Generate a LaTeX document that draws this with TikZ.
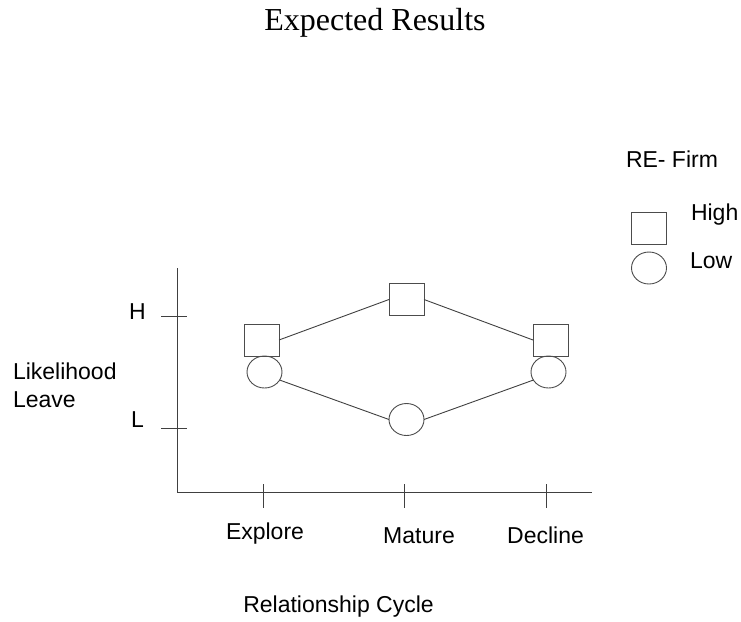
\documentclass[tikz,border=0pt]{standalone}
\usepackage{fontspec}
\setmainfont{Liberation Sans}
\newfontfamily\titlefont{Liberation Serif}
\usetikzlibrary{shapes.geometric}
\begin{document}
\begin{tikzpicture}[x=1pt,y=-1pt,
  every node/.style={inner sep=0pt, outer sep=0pt},
  lbl/.style={font=\fontsize{23}{28}\selectfont, text=black, anchor=base},
  sq/.style={draw=black!70, line width=0.9pt, minimum width=35pt, minimum height=32pt, rectangle},
  circ/.style={draw=black!70, line width=0.9pt, ellipse, minimum width=35pt, minimum height=32pt},
  axis/.style={draw=black!75, line width=0.9pt},
  conn/.style={draw=black!75, line width=0.9pt}]
\useasboundingbox (0,0) rectangle (741,621);
% title
\node[anchor=base, font=\titlefont\fontsize{32}{36}\selectfont] (title) at (375,30) {Expected Results};
% axes
\coordinate (ytop) at (177.5,268);
\coordinate (orig) at (177.5,492);
\coordinate (xend) at (592,492);
\draw[axis] (ytop) -- (orig) -- (xend);
% y ticks
\coordinate (h1) at (161,316); \coordinate (h2) at (187,316);
\coordinate (l1) at (161,428); \coordinate (l2) at (187,428);
\draw[axis] (h1) -- (h2);
\draw[axis] (l1) -- (l2);
% x ticks
\foreach \n/\x in {t1/263,t2/404,t3/546}{
  \coordinate (\n a) at (\x,484); \coordinate (\n b) at (\x,508);
  \draw[axis] (\n a) -- (\n b);
}
% labels
\node[lbl] (H) at (137.5,319) {H};
\node[lbl] (L) at (137.5,427) {L};
\node[lbl, anchor=base west] (ylab1) at (13,379) {Likelihood};
\node[lbl, anchor=base west] (ylab2) at (13,407) {Leave};
\node[lbl] (explore) at (265,539) {Explore};
\node[lbl] (mature) at (419,543) {Mature};
\node[lbl] (decline) at (545.5,543) {Decline};
\node[lbl] (xlab) at (338.5,612) {Relationship Cycle};
% data
\node[sq] (s1) at (261.5,340) {};
\node[sq] (s2) at (406.5,299.5) {};
\node[sq] (s3) at (550.5,340) {};
\node[circ] (c1) at (264.5,372) {};
\node[circ] (c2) at (406.5,419.5) {};
\node[circ] (c3) at (548.5,372) {};
\draw[conn] (s1.east) -- (s2.west);
\draw[conn] (s2.east) -- (s3.west);
\draw[conn] (c1.-28) -- (c2.west);
\draw[conn] (c2.east) -- (c3.-152);
% legend
\node[lbl, anchor=base west] (leg) at (626,167) {RE- Firm};
\node[sq] (ls) at (649,228) {};
\node[circ] (lc) at (649,268) {};
\node[lbl, anchor=base west] (high) at (691,220) {High};
\node[lbl, anchor=base west] (low) at (690,268) {Low};
\end{tikzpicture}
\end{document}
